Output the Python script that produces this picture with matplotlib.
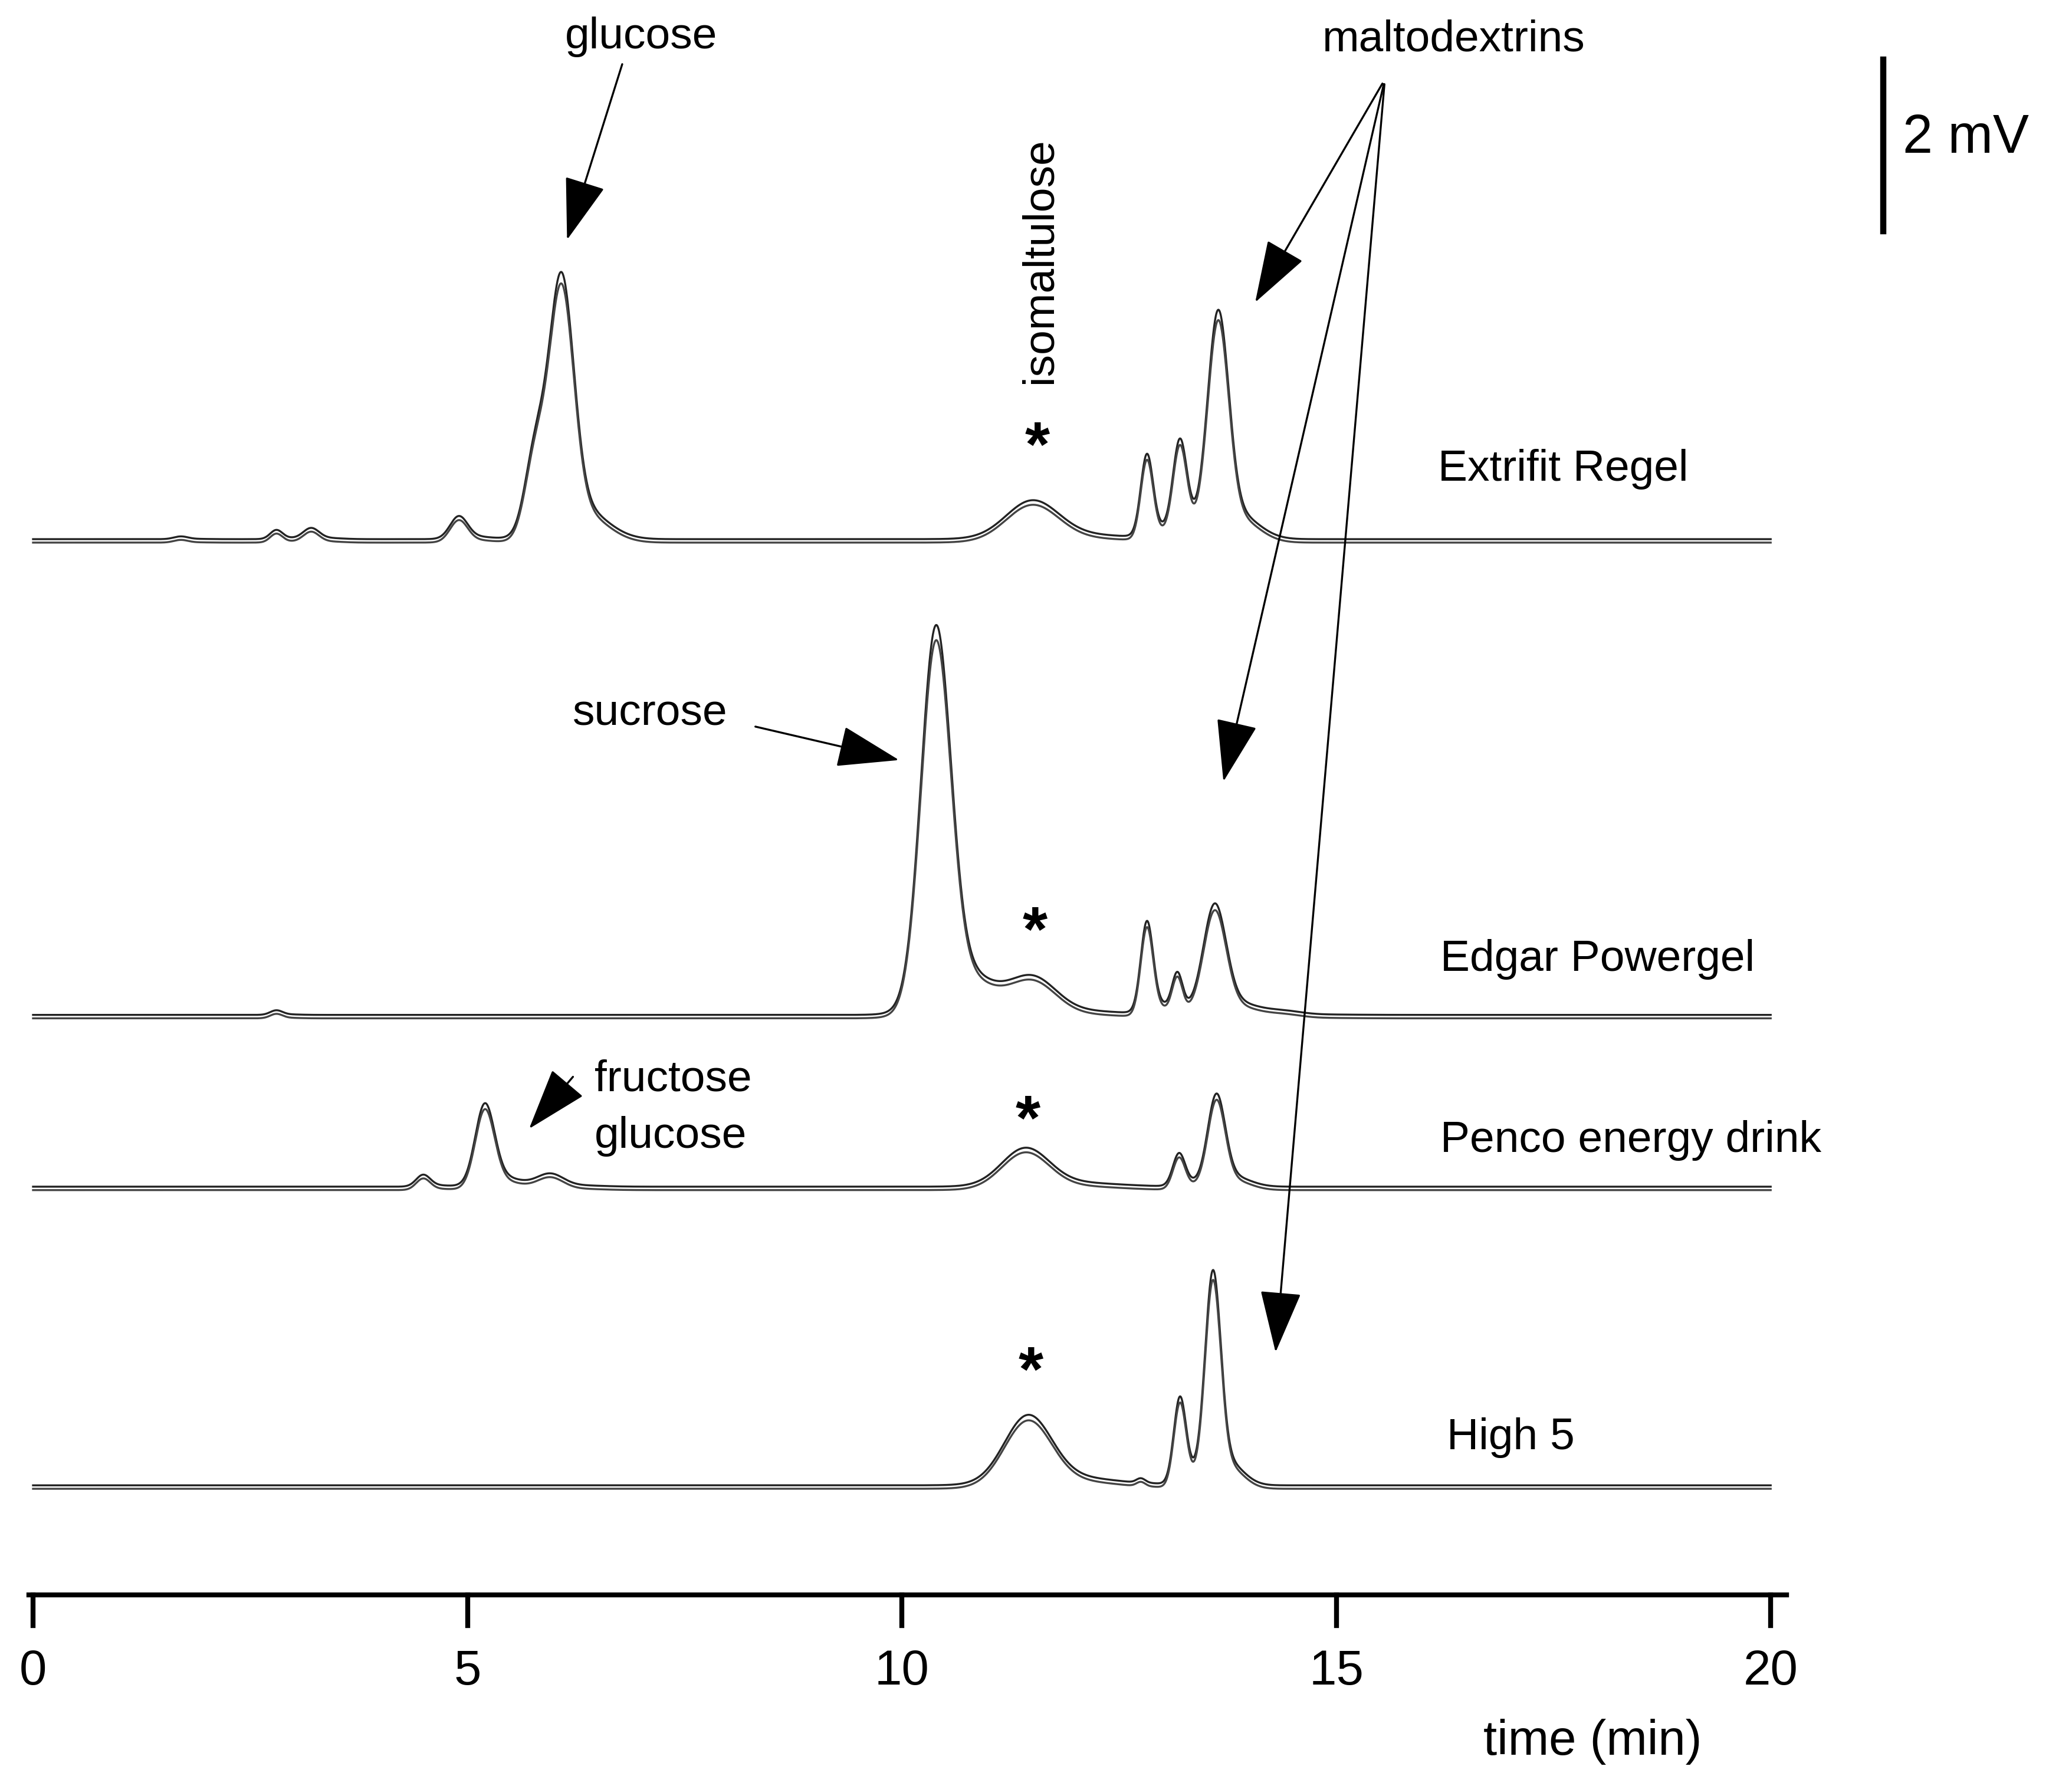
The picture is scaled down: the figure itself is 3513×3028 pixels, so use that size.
import numpy as np
import matplotlib.pyplot as plt

plt.rcParams['font.family'] = ['Liberation Sans', 'DejaVu Sans']

# peak tables per trace: retention time (min), height (mV), width sigma (min)
extrifit_rt = [1.7, 2.8, 3.2, 4.9, 5.78, 6.08, 11.5, 12.82, 13.2, 13.64]
extrifit_h = [0.03, 0.1, 0.12, 0.25, 0.9, 2.75, 0.42, 0.9, 1.05, 2.45]
extrifit_w = [0.08, 0.07, 0.09, 0.1, 0.12, 0.14, 0.3, 0.07, 0.08, 0.12]

edgar_rt = [2.8, 10.39, 11.5, 12.82, 13.17, 13.6, 14.4]
edgar_h = [0.05, 4.2, 0.4, 1.0, 0.42, 1.2, 0.04]
edgar_w = [0.07, 0.17, 0.27, 0.07, 0.06, 0.13, 0.2]

penco_rt = [4.49, 5.2, 5.95, 11.42, 13.19, 13.62]
penco_h = [0.13, 0.9, 0.14, 0.42, 0.36, 1.0]
penco_w = [0.08, 0.11, 0.15, 0.27, 0.07, 0.1]

high5_rt = [11.45, 12.75, 13.2, 13.58]
high5_h = [0.76, 0.05, 0.95, 2.3]
high5_w = [0.27, 0.05, 0.07, 0.09]

names = ['Extrifit Regel', 'Edgar Powergel', 'Penco energy drink', 'High 5']

# pixel helpers (layout measured on the 1568 px wide preview)
S = 1568 / 3513
H = 3028 * S
def X(px): return (px - 25) / 65.75
def Y(py): return (H - py) / 65.0

t = np.linspace(0, 20, 4000)
def trace(rt, h, w):
    y = np.zeros_like(t)
    for r, a, s in zip(rt, h, w):
        y += a * np.exp(-0.5 * ((t - r) / s) ** 2)
        y += 0.12 * a * np.exp(-0.5 * ((t - r - 1.8 * s) / (2 * s)) ** 2)
    return y

fig = plt.figure(figsize=(3513 / 300, 3028 / 300), dpi=300)
ax = fig.add_axes([0, 0, 1, 1])
ax.set_xlim(X(0), X(1568))
ax.set_ylim(0, H / 65.0)
ax.axis('off')

bases = [Y(408), Y(768), Y(898), Y(1124)]
tables = [(extrifit_rt, extrifit_h, extrifit_w), (edgar_rt, edgar_h, edgar_w),
          (penco_rt, penco_h, penco_w), (high5_rt, high5_h, high5_w)]
for b, (rt, h, w) in zip(bases, tables):
    y = trace(rt, h, w)
    ax.plot(t, b + y, color='#222222', lw=0.8)
    ax.plot(t, b - 0.04 + y * 0.97, color='#444444', lw=0.8)

label_pos = [(1088, 355), (1090, 726), (1090, 863), (1095, 1088)]
for n, (px, py) in zip(names, label_pos):
    ax.text(X(px), Y(py), n, fontsize=18, va='center', ha='left')

# asterisks
for px, py in [(785, 340), (783, 707), (778, 850), (780, 1040)]:
    ax.text(X(px), Y(py), '*', fontsize=26, ha='center', va='center', fontweight='bold')

ax.text(X(787), Y(197), 'isomaltulose', fontsize=18, rotation=90, ha='center', va='center')

arrow = dict(arrowstyle='-|>,head_length=0.9,head_width=0.3', color='black', lw=0.8, mutation_scale=25)
ax.text(X(485), Y(28), 'glucose', fontsize=18, ha='center', va='center')
ax.annotate('', xy=(X(428), Y(185)), xytext=(X(472), Y(45)), arrowprops=arrow)
ax.text(X(1100), Y(30), 'maltodextrins', fontsize=18, ha='center', va='center')
for px, py in [(948, 232), (925, 595), (965, 1027)]:
    ax.annotate('', xy=(X(px), Y(py)), xytext=(X(1048), Y(60)), arrowprops=arrow)
ax.text(X(492), Y(540), 'sucrose', fontsize=18, ha='center', va='center')
ax.annotate('', xy=(X(684), Y(576)), xytext=(X(568), Y(549)), arrowprops=arrow)
ax.text(X(450), Y(817), 'fructose', fontsize=18, ha='left', va='center')
ax.text(X(450), Y(860), 'glucose', fontsize=18, ha='left', va='center')
ax.annotate('', xy=(X(398), Y(857)), xytext=(X(436), Y(812)), arrowprops=arrow)

# 2 mV scale bar
ax.plot([X(1425), X(1425)], [Y(45), Y(175)], color='black', lw=2.5)
ax.text(X(1440), Y(105), '2 mV', fontsize=22, ha='left', va='center')

# time axis
ay = Y(1207)
ax.plot([X(22), X(1352)], [ay, ay], color='black', lw=2)
ticks = [0, 5, 10, 15, 20]
for tk in ticks:
    ax.plot([tk, tk], [ay, Y(1230)], color='black', lw=2)
    ax.text(tk, Y(1265), str(tk), fontsize=20, ha='center', va='center')
ax.text(X(1205), Y(1318), 'time (min)', fontsize=20, ha='center', va='center')

fig.savefig('out.png', dpi=300)
